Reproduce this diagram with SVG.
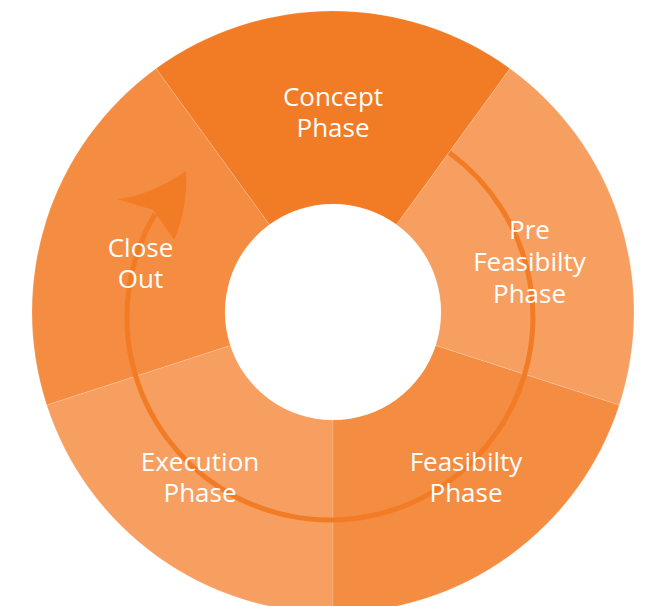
<svg xmlns="http://www.w3.org/2000/svg" width="650" height="606" viewBox="0 0 650 606">
<style>
.seg{stroke:#ffffff;stroke-opacity:0.25;stroke-width:0.6}
.c1{fill:#F27B25}
.c2{fill:#F79F60}
.c3{fill:#F48D42}
.lbl{font-family:"Open Sans","Liberation Sans",sans-serif;font-size:26px;fill:#ffffff;text-anchor:middle}
.arc{fill:none;stroke:#F27B25;stroke-width:5}
</style>
<rect width="650" height="606" fill="#ffffff"/>
<g id="execution">
<path class="seg c2" d="M333,613 A301,301 0 0 1 46.7,405 L230.3,345.4 A108,108 0 0 0 333,420 Z"/>
</g>
<g id="feasibility">
<path class="seg c3" d="M619.3,405 A301,301 0 0 1 333,613 L333,420 A108,108 0 0 0 435.7,345.4 Z"/>
</g>
<g id="prefeasibility">
<path class="seg c2" d="M509.9,68.5 A301,301 0 0 1 619.3,405 L435.7,345.4 A108,108 0 0 0 396.5,224.6 Z"/>
</g>
<g id="closeout">
<path class="seg c3" d="M46.7,405 A301,301 0 0 1 156.1,68.5 L269.5,224.6 A108,108 0 0 0 230.3,345.4 Z"/>
</g>
<g id="concept">
<path class="seg c1" d="M156.1,68.5 A301,301 0 0 1 509.9,68.5 L396.5,224.6 A108,108 0 0 0 269.5,224.6 Z"/>
</g>
<g id="connectors">
<path class="arc" d="M449.3,152.8 A203,203 0 1 1 155,214"/>
<path fill="#F27B25" d="M186,171 Q151.5,194.8 117.7,199.3 L153.3,210 L174.3,240 Q188,206 186,171 Z"/>
</g>
<g id="concept-label">
<text class="lbl" x="333" y="106">Concept</text>
<text class="lbl" x="333" y="137">Phase</text>
</g>
<g id="prefeasibility-label">
<text class="lbl" x="529.5" y="239">Pre</text>
<text class="lbl" x="529.5" y="271">Feasibilty</text>
<text class="lbl" x="529.5" y="303">Phase</text>
</g>
<g id="feasibility-label">
<text class="lbl" x="466" y="471">Feasibilty</text>
<text class="lbl" x="466" y="502">Phase</text>
</g>
<g id="execution-label">
<text class="lbl" x="200" y="471">Execution</text>
<text class="lbl" x="200" y="502">Phase</text>
</g>
<g id="closeout-label">
<text class="lbl" x="140.5" y="257">Close</text>
<text class="lbl" x="140.5" y="288">Out</text>
</g>
</svg>
